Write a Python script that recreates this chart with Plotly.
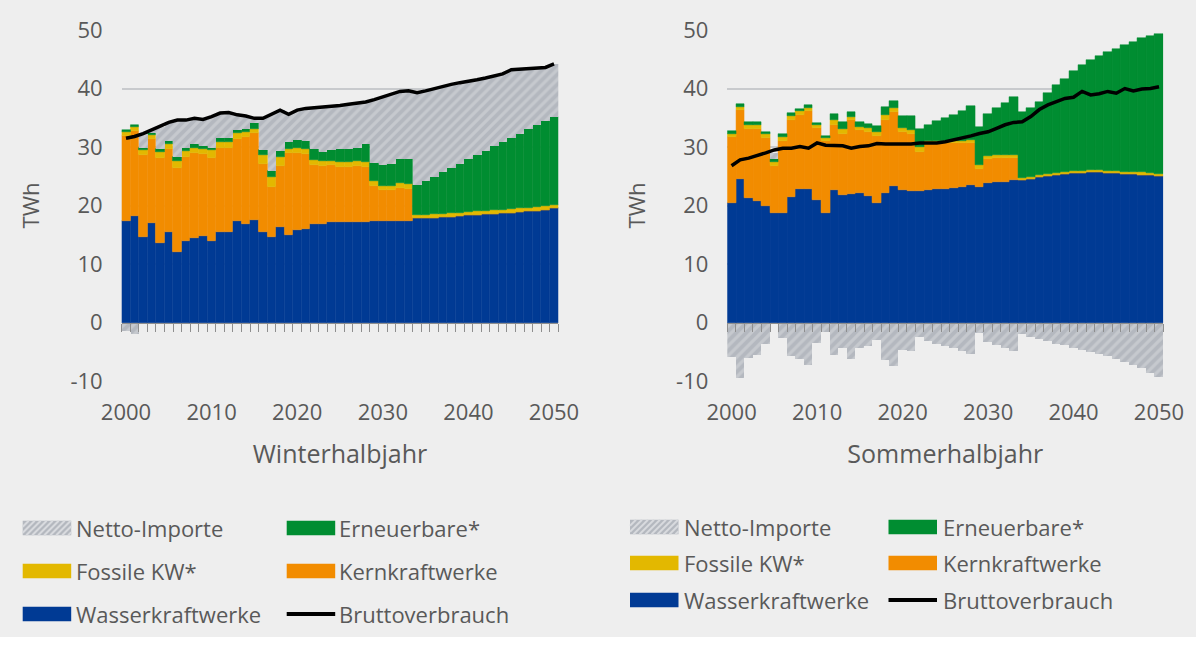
import plotly.graph_objects as go

W_PX, H_PX = 1196, 648

years = list(range(2000, 2051))
xtick_vals = [2000, 2010, 2020, 2030, 2040, 2050]
xtick_text = ["2000", "2010", "2020", "2030", "2040", "2050"]
ytick_vals = [-10, 0, 10, 20, 30, 40, 50]
ytick_text = ["-10", "0", "10", "20", "30", "40", "50"]

# ---------------- Winterhalbjahr (TWh) ----------------
wasser_w = [17.4, 18.2, 14.7, 17.0, 13.6, 15.4, 12.1, 14.0, 14.4, 14.8,
            14.0, 15.4, 15.4, 17.4, 16.8, 17.5, 15.4, 14.7, 16.4, 15.0,
            15.8, 15.9, 16.8, 16.9, 17.1, 17.2, 17.2, 17.2, 17.1, 17.3,
            17.3, 17.3, 17.4, 17.4, 17.8, 17.85, 17.9, 18.0, 18.1, 18.2,
            18.3, 18.4, 18.5, 18.6, 18.7, 18.8, 18.9, 19.0, 19.1, 19.3, 19.5]
kern_w = [14.5, 14.6, 13.9, 14.3, 14.5, 14.2, 14.3, 14.3, 14.5, 14.0,
          14.2, 14.5, 14.5, 14.0, 14.9, 14.9, 11.7, 8.5, 10.4, 13.9,
          13.2, 12.9, 10.1, 9.9, 9.8, 9.4, 9.4, 9.5, 9.5, 6.0,
          5.3, 5.4, 5.6, 5.5, 0, 0, 0, 0, 0, 0,
          0, 0, 0, 0, 0, 0, 0, 0, 0, 0, 0]
fossil_w = [0.6, 0.6, 0.85, 0.75, 1.0, 0.85, 1.25, 1.0, 1.0, 0.85,
            1.25, 1.0, 1.0, 0.95, 0.8, 0.75, 1.5, 1.6, 1.5, 0.75,
            0.75, 0.85, 0.85, 0.8, 0.75, 0.8, 0.85, 0.85, 0.85, 0.9,
            0.7, 0.7, 0.8, 0.75, 0.6, 0.6, 0.6, 0.6, 0.6, 0.6,
            0.6, 0.6, 0.6, 0.6, 0.6, 0.6, 0.6, 0.6, 0.6, 0.6, 0.6]
erneuerbar_w = [0.4, 0.4, 0.45, 0.4, 0.5, 0.6, 0.6, 0.55, 0.55, 0.6,
                0.45, 0.7, 0.6, 0.55, 0.5, 1.0, 0.85, 1.1, 1.1, 1.15,
                1.4, 1.45, 1.85, 1.6, 1.85, 2.3, 2.2, 2.2, 3.0, 3.1,
                3.6, 3.7, 4.1, 4.35, 5.1, 5.75, 6.4, 7.1, 7.7, 8.3,
                9.0, 9.6, 10.2, 10.9, 11.5, 12.1, 12.8, 13.4, 14.0, 14.6, 15.1]
import_w = [-1.4, -2.0, 2.4, 0.45, 3.9, 3.15, 6.35, 4.75, 4.45, 4.45,
            5.3, 4.2, 4.4, 2.6, 2.3, 0.75, 5.45, 9.7, 6.9, 4.8,
            5.15, 5.5, 7.1, 7.6, 7.4, 7.4, 7.65, 7.75, 7.25, 10.8,
            11.7, 11.9, 11.6, 11.6, 15.8, 15.4, 15.1, 14.7, 14.3, 13.9,
            13.3, 12.9, 12.5, 12.0, 11.7, 11.7, 11.0, 10.4, 9.8, 9.1, 9.0]
brutto_w = [31.5, 31.8, 32.3, 32.9, 33.5, 34.2, 34.6, 34.6, 34.9, 34.7,
            35.2, 35.8, 35.9, 35.5, 35.3, 34.9, 34.9, 35.6, 36.3, 35.6,
            36.3, 36.6, 36.7, 36.8, 36.9, 37.1, 37.3, 37.5, 37.7, 38.1,
            38.6, 39.0, 39.5, 39.6, 39.3, 39.6, 40.0, 40.4, 40.7, 41.0,
            41.2, 41.5, 41.8, 42.1, 42.5, 43.2, 43.3, 43.4, 43.5, 43.6, 44.2]

# ---------------- Sommerhalbjahr (TWh) ----------------
wasser_s = [20.5, 24.6, 21.2, 20.8, 19.9, 18.7, 18.8, 21.5, 22.8, 22.8,
            21.0, 18.7, 22.6, 21.8, 22.0, 22.1, 21.6, 20.5, 22.1, 23.3,
            22.6, 22.4, 22.4, 22.6, 22.9, 22.8, 23.0, 23.2, 23.5, 23.2,
            23.8, 24.0, 24.1, 24.3, 24.4, 24.6, 24.8, 25.0, 25.2, 25.4,
            25.5, 25.6, 25.7, 25.7, 25.6, 25.5, 25.4, 25.4, 25.3, 25.2, 25.0]
kern_s = [11.2, 11.7, 11.8, 12.2, 11.6, 8.1, 12.2, 13.1, 12.7, 13.4,
          12.2, 12.3, 11.2, 10.5, 12.6, 10.8, 11.0, 11.4, 12.6, 12.6,
          10.0, 9.9, 6.8, 8.0, 7.8, 7.9, 7.7, 7.5, 7.2, 3.1,
          4.1, 4.2, 4.1, 3.9, 0, 0, 0, 0, 0, 0,
          0, 0, 0, 0, 0, 0, 0, 0, 0, 0, 0]
fossil_s = [0.6, 0.6, 0.7, 0.7, 0.7, 0.7, 0.7, 0.7, 0.6, 0.55,
            0.6, 0.5, 0.85, 0.85, 0.6, 0.6, 0.7, 0.6, 0.75, 0.75,
            0.6, 0.6, 0.8, 0.4, 0.4, 0.4, 0.4, 0.4, 0.5, 0.6,
            0.5, 0.5, 0.5, 0.5, 0.35, 0.35, 0.35, 0.35, 0.35, 0.35,
            0.35, 0.35, 0.35, 0.35, 0.35, 0.35, 0.35, 0.35, 0.35, 0.35, 0.35]
erneuerbar_s = [0.4, 0.4, 0.5, 0.5, 0.4, 0.4, 0.6, 0.5, 0.4, 0.35,
                0.3, 0.4, 0.95, 1.15, 0.8, 0.8, 0.7, 1.1, 1.45, 1.25,
                2.1, 2.4, 3.1, 2.8, 3.3, 3.8, 4.3, 5.1, 5.8, 6.6,
                7.2, 7.9, 8.9, 9.8, 11.25, 11.65, 12.55, 13.85, 15.05, 15.95,
                17.15, 18.05, 18.85, 19.55, 20.25, 20.85, 21.65, 22.25, 22.95, 23.45, 24.05]
import_s = [-5.9, -9.5, -6.0, -5.5, -3.7, 1.0, -2.7, -5.8, -6.3, -7.3,
            -3.5, -1.7, -5.5, -4.4, -6.3, -4.4, -4.0, -3.0, -6.4, -7.4,
            -4.7, -4.8, -2.5, -3.2, -3.6, -4.0, -4.3, -4.8, -5.3, -1.8,
            -3.3, -3.8, -4.3, -4.8, -2.0, -2.4, -2.9, -3.2, -3.6, -3.9,
            -4.3, -4.7, -5.0, -5.4, -5.8, -6.3, -6.7, -7.3, -7.8, -8.7, -9.4]
brutto_s = [26.8, 27.8, 28.1, 28.5, 29.0, 29.5, 29.8, 29.8, 30.1, 29.8,
            30.7, 30.3, 30.2, 30.2, 29.8, 30.1, 30.2, 30.6, 30.5, 30.5,
            30.6, 30.5, 30.7, 30.7, 30.7, 30.9, 31.2, 31.5, 31.9, 32.3,
            32.6, 33.2, 33.8, 34.2, 34.3, 35.2, 36.4, 37.2, 37.7, 38.3,
            38.5, 39.5, 38.9, 39.1, 39.5, 39.2, 40.0, 39.6, 39.9, 40.0, 40.3]

# ---------------- styles ----------------
FONT = "Open Sans"
TXT = "#595959"
BG = "#EEEEEE"
GRID = "#C8CACD"
TICKC = "#8E8E8E"
C_W = "#003A94"
C_K = "#F28C00"
C_F = "#E3B800"
C_G = "#008D31"
C_I_BG = "#B4B8BF"
C_I_FG = "#D8DADE"

fig = go.Figure()


def add_panel(xa, xl, ya, wasser, kern, fossil, erneuerbar, imp, brutto):
    for name, vals, col in [("Wasserkraftwerke", wasser, C_W),
                            ("Kernkraftwerke", kern, C_K),
                            ("Fossile KW*", fossil, C_F),
                            ("Erneuerbare*", erneuerbar, C_G)]:
        fig.add_trace(go.Bar(x=years, y=vals, name=name, xaxis=xa, yaxis=ya,
                             marker=dict(color=col, line=dict(color=col, width=0.5)),
                             showlegend=False))
    fig.add_trace(go.Bar(x=years, y=imp, name="Netto-Importe", xaxis=xa, yaxis=ya,
                         marker=dict(color=C_I_BG, line=dict(width=0),
                                     pattern=dict(shape="/", bgcolor=C_I_BG, fgcolor=C_I_FG,
                                                  size=7, solidity=0.45)),
                         showlegend=False))
    fig.add_trace(go.Scatter(x=years, y=brutto, name="Bruttoverbrauch", mode="lines",
                             xaxis=xl, yaxis=ya, line=dict(color="black", width=3.5),
                             showlegend=False))


add_panel("x", "x3", "y", wasser_w, kern_w, fossil_w, erneuerbar_w, import_w, brutto_w)
add_panel("x2", "x4", "y2", wasser_s, kern_s, fossil_s, erneuerbar_s, import_s, brutto_s)

# plot areas in pixels
L_X0, L_X1 = 121.7, 558.3
R_X0, R_X1 = 727.3, 1163.3
Y_TOP, Y_BOT = 30.0, 381.0
ydom = [1 - Y_BOT / H_PX, 1 - Y_TOP / H_PX]
zero_pos = 1 - (Y_BOT - (Y_BOT - Y_TOP) / 6.0) / H_PX

tickfont = dict(family=FONT, size=22, color=TXT)


def xaxis_main(dom, anchor, title):
    return dict(domain=dom, anchor=anchor, range=[1999.5, 2050.5], showgrid=False,
                zeroline=False, showline=False, ticks="", tickmode="array",
                tickvals=xtick_vals, ticktext=xtick_text, tickfont=tickfont,
                ticklabelstandoff=16, automargin=False,
                title=dict(text=title, font=dict(family=FONT, size=25, color=TXT), standoff=20))


def xaxis_zero(over):
    return dict(overlaying=over, anchor="free", position=zero_pos, range=[1999.5, 2050.5],
                showgrid=False, zeroline=False, showline=True, linecolor=TICKC, linewidth=1,
                ticks="outside", ticklen=8, tickwidth=1, tickcolor=TICKC, tickmode="linear",
                tick0=1999.5, dtick=1, showticklabels=False, automargin=False)


def yaxis_main(anchor):
    return dict(domain=ydom, anchor=anchor, range=[-10, 50], tickmode="array",
                tickvals=ytick_vals, ticktext=ytick_text, tickfont=tickfont,
                showgrid=True, gridcolor=GRID, gridwidth=1.5, zeroline=False, showline=False,
                ticks="", ticklabelstandoff=18, automargin=False,
                title=dict(text="TWh", font=dict(family=FONT, size=22, color=TXT), standoff=24))


fig.update_layout(
    width=W_PX, height=H_PX,
    margin=dict(l=0, r=0, t=0, b=0),
    paper_bgcolor=BG, plot_bgcolor=BG,
    barmode="relative", bargap=0,
    showlegend=False,
    font=dict(family=FONT, color=TXT),
    xaxis=xaxis_main([L_X0 / W_PX, L_X1 / W_PX], "y", "Winterhalbjahr"),
    xaxis2=xaxis_main([R_X0 / W_PX, R_X1 / W_PX], "y2", "Sommerhalbjahr"),
    xaxis3=xaxis_zero("x"),
    xaxis4=xaxis_zero("x2"),
    yaxis=yaxis_main("x"),
    yaxis2=yaxis_main("x2"),
)

# ---------------- manual legends ----------------
shapes = []
annotations = []


def px(x):
    return x / W_PX


def py(y):
    return 1 - y / H_PX


def rect(x0, y0, x1, y1, col):
    shapes.append(dict(type="rect", xref="paper", yref="paper", x0=px(x0), x1=px(x1),
                       y0=py(y1), y1=py(y0), fillcolor=col, line=dict(width=0)))


def hatch_rect(x0, y0, x1, y1):
    rect(x0, y0, x1, y1, C_I_BG)
    h = y1 - y0
    step = 6.0
    xs = x0 - h
    while xs < x1:
        t0 = max(0.0, (x0 - xs) / h)
        t1 = min(1.0, (x1 - xs) / h)
        if t1 > t0:
            shapes.append(dict(type="line", xref="paper", yref="paper",
                               x0=px(xs + t0 * h), y0=py(y1 - t0 * h),
                               x1=px(xs + t1 * h), y1=py(y1 - t1 * h),
                               line=dict(color=C_I_FG, width=2)))
        xs += step


def label(x, y, text):
    annotations.append(dict(xref="paper", yref="paper", x=px(x), y=py(y), text=text,
                            showarrow=False, xanchor="left", yanchor="middle",
                            font=dict(family=FONT, size=22, color=TXT)))


def legend_block(c1_sw, c1_tx, c2_sw, c2_tx, rows):
    sw_w = 48.5
    sh = 14.5
    r1, r2, r3 = rows
    hatch_rect(c1_sw, r1 - sh / 2, c1_sw + sw_w, r1 + sh / 2)
    label(c1_tx, r1, "Netto-Importe")
    rect(c2_sw, r1 - sh / 2, c2_sw + sw_w, r1 + sh / 2, C_G)
    label(c2_tx, r1, "Erneuerbare*")
    rect(c1_sw, r2 - sh / 2, c1_sw + sw_w, r2 + sh / 2, C_F)
    label(c1_tx, r2, "Fossile KW*")
    rect(c2_sw, r2 - sh / 2, c2_sw + sw_w, r2 + sh / 2, C_K)
    label(c2_tx, r2, "Kernkraftwerke")
    rect(c1_sw, r3 - sh / 2, c1_sw + sw_w, r3 + sh / 2, C_W)
    label(c1_tx, r3, "Wasserkraftwerke")
    shapes.append(dict(type="line", xref="paper", yref="paper", x0=px(c2_sw), x1=px(c2_sw + sw_w),
                       y0=py(r3), y1=py(r3), line=dict(color="black", width=4)))
    label(c2_tx, r3, "Bruttoverbrauch")


legend_block(22.7, 74, 286.7, 337, (528, 571, 614))
legend_block(630, 682, 888.5, 941, (527, 563, 600))

# white strip at the very bottom of the image
shapes.append(dict(type="rect", xref="paper", yref="paper", x0=0, x1=1, y0=0, y1=py(637),
                   fillcolor="white", line=dict(width=0), layer="below"))

fig.update_layout(shapes=shapes, annotations=annotations)

fig.write_html("out.html", config={"displayModeBar": False},
               post_script="document.body.style.margin='0px';document.body.style.padding='0px';")
